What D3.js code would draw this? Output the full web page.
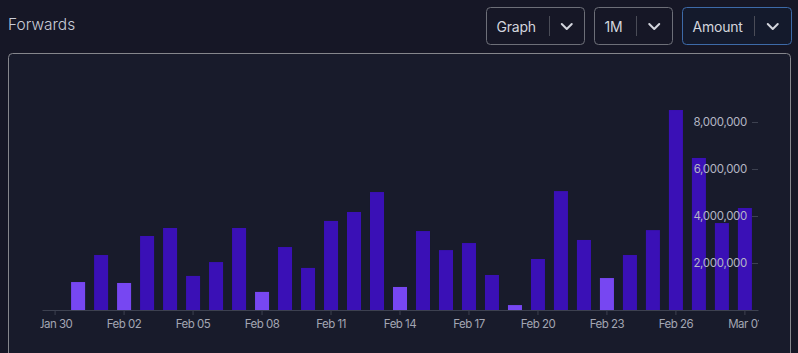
<!DOCTYPE html>
<html>
<head>
<meta charset="utf-8">
<script src="https://cdn.jsdelivr.net/npm/d3@7"></script>
<style>
  html, body { margin: 0; padding: 0; background: #161726; }
  svg { display: block; font-family: Inter, "Noto Sans", sans-serif; }
</style>
</head>
<body>
<svg id="chart" width="798" height="353"></svg>
<script>
// ---- Data ----
const days = ["2024-01-30","2024-01-31","2024-02-01","2024-02-02","2024-02-03","2024-02-04","2024-02-05","2024-02-06","2024-02-07","2024-02-08","2024-02-09","2024-02-10","2024-02-11","2024-02-12","2024-02-13","2024-02-14","2024-02-15","2024-02-16","2024-02-17","2024-02-18","2024-02-19","2024-02-20","2024-02-21","2024-02-22","2024-02-23","2024-02-24","2024-02-25","2024-02-26","2024-02-27","2024-02-28","2024-03-01"];
const amounts = [null, 1190000, 2340000, 1150000, 3150000, 3490000, 1450000, 2040000, 3490000, 770000, 2680000, 1790000, 3790000, 4170000, 5020000, 980000, 3360000, 2550000, 2850000, 1490000, 210000, 2170000, 5060000, 2980000, 1360000, 2340000, 3400000, 8510000, 6470000, 3700000, 4340000];
const highlighted = ["2024-01-31","2024-02-02","2024-02-08","2024-02-14","2024-02-19","2024-02-23"];
const xTickDays = ["2024-01-30","2024-02-02","2024-02-05","2024-02-08","2024-02-11","2024-02-14","2024-02-17","2024-02-20","2024-02-23","2024-02-26","2024-03-01"];
const xTickLabels = ["Jan 30","Feb 02","Feb 05","Feb 08","Feb 11","Feb 14","Feb 17","Feb 20","Feb 23","Feb 26","Mar 01"];
const yTicks = [2000000, 4000000, 6000000, 8000000];
const title = "Forwards";
const controls = ["Graph", "1M", "Amount"];

// ---- Layout ----
const svg = d3.select("#chart");
const plot = { left: 42, right: 758, top: 122, bottom: 310 };

// Title
svg.append("text").attr("x", 8).attr("y", 29.5)
  .attr("fill", "#c9ccd6").attr("font-size", 15.5).attr("font-weight", 300)
  .text(title);

// Controls (dropdowns)
const boxes = [
  { x: 486.5, w: 98, sep: 549, active: false },
  { x: 594.5, w: 78, sep: 636, active: false },
  { x: 682.5, w: 109, sep: 754, active: true }
];
controls.forEach((label, i) => {
  const b = boxes[i];
  const g = svg.append("g");
  g.append("rect").attr("x", b.x).attr("y", 7.5).attr("width", b.w).attr("height", 37)
    .attr("rx", 4).attr("fill", b.active ? "#141a2c" : "none")
    .attr("stroke", b.active ? "#3d6aa8" : "#6d6f78").attr("stroke-width", 1);
  g.append("text").attr("x", b.x + 10).attr("y", 31.5)
    .attr("fill", "#d3d5dd").attr("font-size", 14).attr("font-weight", 400)
    .attr("letter-spacing", "-0.2px")
    .text(label);
  g.append("line").attr("x1", b.sep + 0.5).attr("x2", b.sep + 0.5).attr("y1", 16).attr("y2", 36)
    .attr("stroke", "#4a4c57");
  const cx = (b.sep + b.x + b.w) / 2;
  g.append("path").attr("d", `M${cx - 5},${24} L${cx},${29} L${cx + 5},${24}`)
    .attr("fill", "none").attr("stroke", "#d3d5dd").attr("stroke-width", 2)
    .attr("stroke-linecap", "round").attr("stroke-linejoin", "round");
});

// Panel
svg.append("rect").attr("x", 8.5).attr("y", 53.5).attr("width", 782).attr("height", 320)
  .attr("rx", 4).attr("fill", "#181b2b").attr("stroke", "#85868c").attr("stroke-width", 1);

// Scales
const x = d3.scaleBand().domain(days).range([plot.left, plot.right])
  .paddingInner(0.39).paddingOuter(0.265);
const y = d3.scaleLinear().domain([0, 8000000]).range([plot.bottom, plot.top]);

// Clip
svg.append("clipPath").attr("id", "clip")
  .append("rect").attr("x", plot.left - 1.5).attr("y", 0).attr("width", plot.right - plot.left + 2.5).attr("height", 353);

// Bars
const data = days.map((d, i) => ({ day: d, v: amounts[i] })).filter(d => d.v != null);
svg.append("g").selectAll("rect").data(data).join("rect")
  .attr("x", d => x(d.day))
  .attr("width", x.bandwidth())
  .attr("y", d => y(d.v))
  .attr("height", d => y(0) - y(d.v))
  .attr("fill", d => highlighted.includes(d.day) ? "#7747f2" : "#3a10b6");

// X axis
const xAxis = d3.axisBottom(x).tickValues(xTickDays)
  .tickFormat(d => xTickLabels[xTickDays.indexOf(d)])
  .tickSize(5).tickSizeOuter(0).tickPadding(5);
const gx = svg.append("g").attr("transform", `translate(0,${plot.bottom})`)
  .attr("clip-path", "url(#clip)").call(xAxis);
gx.select(".domain").attr("stroke", "#3d4150");
gx.selectAll(".tick line").attr("stroke", "#3d4150");
gx.selectAll(".tick text").attr("fill", "#a3a6b3").attr("font-size", 11.5)
  .attr("font-family", "Inter, sans-serif").attr("letter-spacing", "-0.5px");

// Y axis (right, labels inward)
const yAxis = d3.axisLeft(y).tickValues(yTicks).tickFormat(d3.format(",")).tickSize(6).tickPadding(5);
const gy = svg.append("g").attr("transform", `translate(${plot.right},0)`).call(yAxis);
gy.select(".domain").remove();
gy.selectAll(".tick line").attr("stroke", "#3d4150");
gy.selectAll(".tick text").attr("fill", "#b4b6c4").attr("font-size", 11.5)
  .attr("font-family", "Inter, sans-serif").attr("letter-spacing", "-0.3px");
</script>
</body>
</html>
